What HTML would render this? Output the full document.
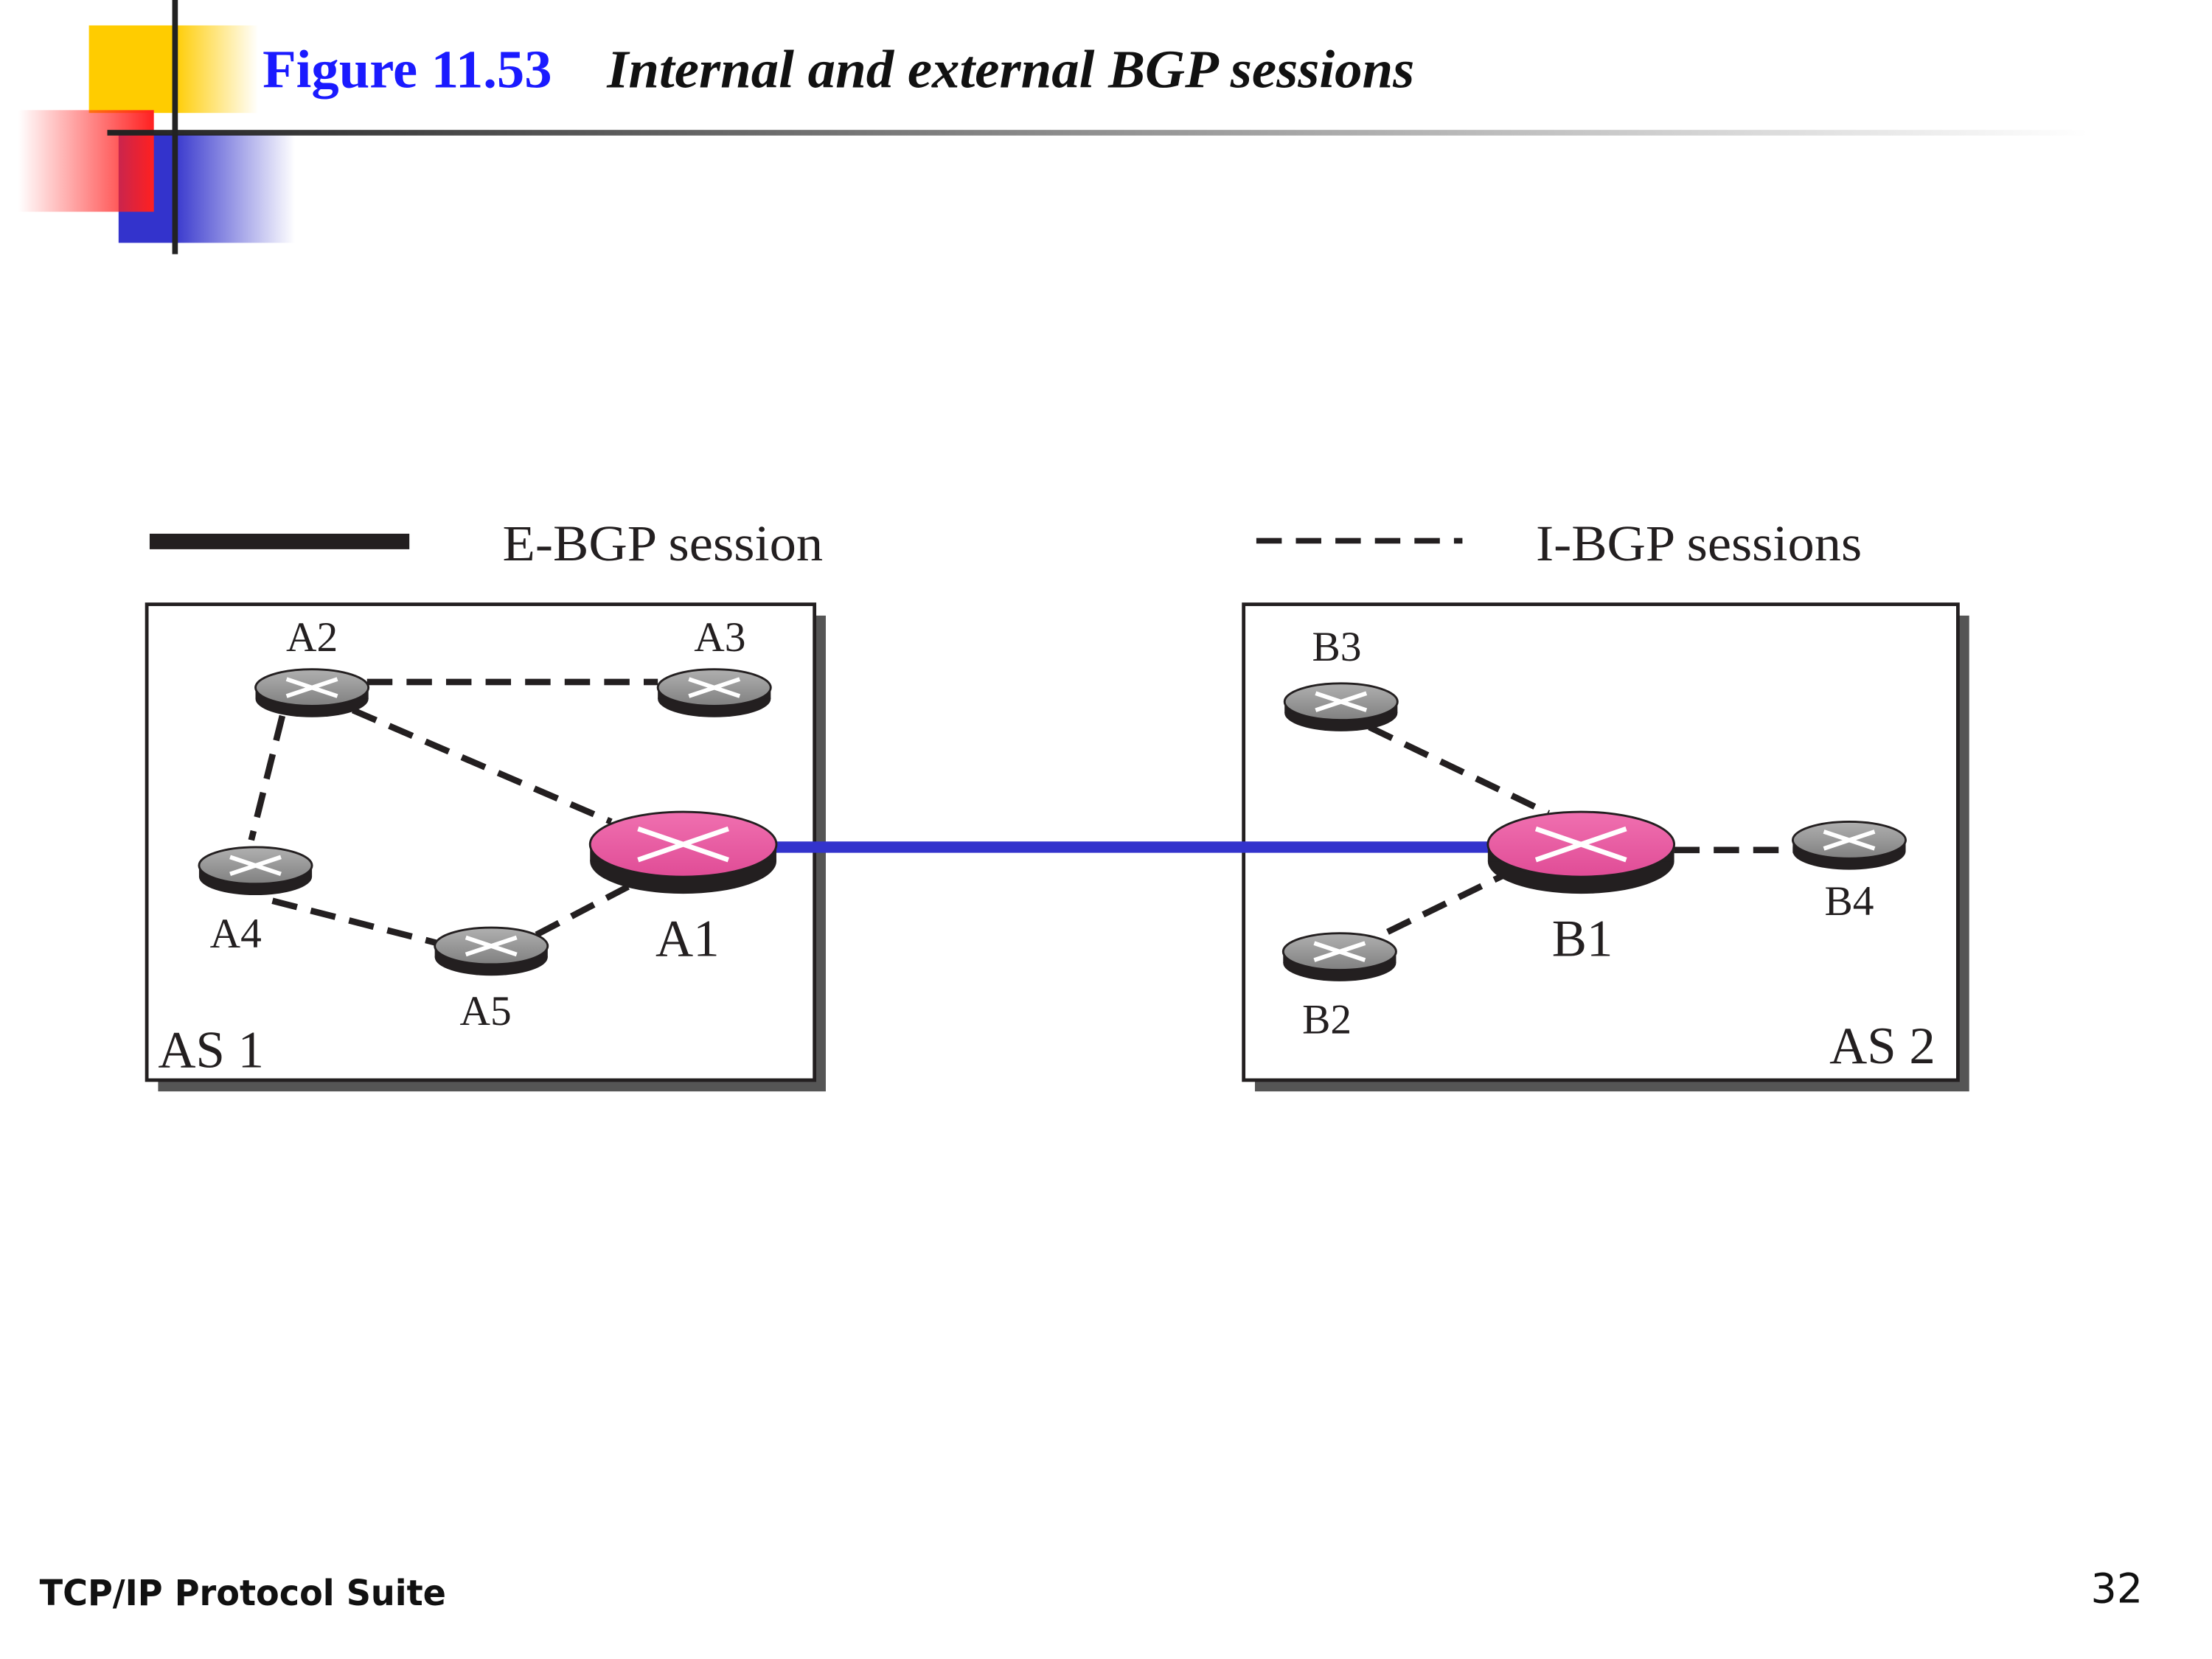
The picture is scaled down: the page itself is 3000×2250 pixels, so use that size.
<!DOCTYPE html>
<html><head><meta charset="utf-8"><style>
html,body{margin:0;padding:0;background:#fff;}
svg{display:block;}
</style></head><body>
<svg width="3000" height="2250" viewBox="0 0 1567 1175" preserveAspectRatio="none" xmlns="http://www.w3.org/2000/svg">
<defs>
<linearGradient id="gy" x1="0" x2="1" y1="0" y2="0"><stop offset="0.5" stop-color="#ffcc00"/><stop offset="1" stop-color="#ffcc00" stop-opacity="0"/></linearGradient>
<linearGradient id="gr" x1="1" x2="0" y1="0" y2="0"><stop offset="0" stop-color="#ff2020"/><stop offset="1" stop-color="#ff2020" stop-opacity="0"/></linearGradient>
<linearGradient id="gb" x1="0" x2="1" y1="0" y2="0"><stop offset="0.3" stop-color="#3333cc"/><stop offset="1" stop-color="#3333cc" stop-opacity="0"/></linearGradient>
<linearGradient id="gl" x1="0" x2="1" y1="0" y2="0"><stop offset="0" stop-color="#222"/><stop offset="1" stop-color="#222" stop-opacity="0"/></linearGradient>
<linearGradient id="gray" x1="0" x2="0" y1="0" y2="1"><stop offset="0" stop-color="#b0b0b0"/><stop offset="1" stop-color="#808080"/></linearGradient>
<linearGradient id="pink" x1="0" x2="0" y1="0" y2="1"><stop offset="0" stop-color="#f070b0"/><stop offset="1" stop-color="#e04c96"/></linearGradient>
</defs>
<rect x="63" y="18" width="120" height="62" fill="url(#gy)"/>
<rect x="84" y="95" width="125" height="77" fill="url(#gb)"/>
<rect x="13" y="78" width="96" height="72" fill="url(#gr)"/>
<rect x="76" y="92" width="1404" height="4" fill="url(#gl)"/>
<rect x="122" y="0" width="4" height="180" fill="#222"/>
<text x="186" y="62" font-family="Liberation Serif, serif" font-weight="bold" font-size="38" fill="#1a1aff" textLength="205" lengthAdjust="spacingAndGlyphs">Figure 11.53</text>
<text x="430" y="62" font-family="Liberation Serif, serif" font-weight="bold" font-style="italic" font-size="38" fill="#111" textLength="572" lengthAdjust="spacingAndGlyphs">Internal and external BGP sessions</text>

<rect x="106" y="378" width="184" height="11" fill="#231f20"/>
<text x="356" y="397" font-family="Liberation Serif, serif" font-size="36" fill="#231f20" textLength="227" lengthAdjust="spacingAndGlyphs">E-BGP session</text>
<line x1="890" y1="383" x2="1036" y2="383" stroke="#231f20" stroke-width="4" stroke-dasharray="18 10"/>
<text x="1088" y="397" font-family="Liberation Serif, serif" font-size="36" fill="#231f20" textLength="231" lengthAdjust="spacingAndGlyphs">I-BGP sessions</text>

<rect x="112" y="436" width="473" height="337" fill="#555"/>
<rect x="104" y="428" width="473" height="337" fill="#fff" stroke="#231f20" stroke-width="2.5"/>
<rect x="889" y="436" width="506" height="337" fill="#555"/>
<rect x="881" y="428" width="506" height="337" fill="#fff" stroke="#231f20" stroke-width="2.5"/>

<g stroke="#231f20" stroke-width="4.5" stroke-dasharray="18 10" fill="none">
<line x1="260" y1="483" x2="466" y2="483"/>
<line x1="200" y1="507" x2="178" y2="595"/>
<line x1="250" y1="503" x2="433" y2="582"/>
<line x1="193" y1="638" x2="310" y2="668"/>
<line x1="380" y1="662" x2="445" y2="628"/>
<line x1="970" y1="515" x2="1097" y2="576"/>
<line x1="983" y1="660" x2="1065" y2="620"/>
<line x1="1186" y1="602" x2="1272" y2="602"/>
</g>
<line x1="548" y1="600" x2="1058" y2="600" stroke="#3333cc" stroke-width="8"/>

<g id="routers">
<g transform="translate(221,487)"><ellipse cx="0" cy="8" rx="40" ry="13" fill="#231f20"/><rect x="-40" y="0" width="80" height="8" fill="#231f20"/><ellipse cx="0" cy="0" rx="40" ry="13" fill="url(#gray)" stroke="#231f20" stroke-width="1.5"/><path d="M-18,-6 L18,6 M-18,6 L18,-6" stroke="#fff" stroke-width="3"/></g>
<g transform="translate(506,487)"><ellipse cx="0" cy="8" rx="40" ry="13" fill="#231f20"/><rect x="-40" y="0" width="80" height="8" fill="#231f20"/><ellipse cx="0" cy="0" rx="40" ry="13" fill="url(#gray)" stroke="#231f20" stroke-width="1.5"/><path d="M-18,-6 L18,6 M-18,6 L18,-6" stroke="#fff" stroke-width="3"/></g>
<g transform="translate(181,613)"><ellipse cx="0" cy="8" rx="40" ry="13" fill="#231f20"/><rect x="-40" y="0" width="80" height="8" fill="#231f20"/><ellipse cx="0" cy="0" rx="40" ry="13" fill="url(#gray)" stroke="#231f20" stroke-width="1.5"/><path d="M-18,-6 L18,6 M-18,6 L18,-6" stroke="#fff" stroke-width="3"/></g>
<g transform="translate(348,670)"><ellipse cx="0" cy="8" rx="40" ry="13" fill="#231f20"/><rect x="-40" y="0" width="80" height="8" fill="#231f20"/><ellipse cx="0" cy="0" rx="40" ry="13" fill="url(#gray)" stroke="#231f20" stroke-width="1.5"/><path d="M-18,-6 L18,6 M-18,6 L18,-6" stroke="#fff" stroke-width="3"/></g>
<g transform="translate(950,497)"><ellipse cx="0" cy="8" rx="40" ry="13" fill="#231f20"/><rect x="-40" y="0" width="80" height="8" fill="#231f20"/><ellipse cx="0" cy="0" rx="40" ry="13" fill="url(#gray)" stroke="#231f20" stroke-width="1.5"/><path d="M-18,-6 L18,6 M-18,6 L18,-6" stroke="#fff" stroke-width="3"/></g>
<g transform="translate(1310,595)"><ellipse cx="0" cy="8" rx="40" ry="13" fill="#231f20"/><rect x="-40" y="0" width="80" height="8" fill="#231f20"/><ellipse cx="0" cy="0" rx="40" ry="13" fill="url(#gray)" stroke="#231f20" stroke-width="1.5"/><path d="M-18,-6 L18,6 M-18,6 L18,-6" stroke="#fff" stroke-width="3"/></g>
<g transform="translate(949,674)"><ellipse cx="0" cy="8" rx="40" ry="13" fill="#231f20"/><rect x="-40" y="0" width="80" height="8" fill="#231f20"/><ellipse cx="0" cy="0" rx="40" ry="13" fill="url(#gray)" stroke="#231f20" stroke-width="1.5"/><path d="M-18,-6 L18,6 M-18,6 L18,-6" stroke="#fff" stroke-width="3"/></g>
<g transform="translate(484,598)"><ellipse cx="0" cy="12" rx="66" ry="23" fill="#231f20"/><rect x="-66" y="0" width="132" height="12" fill="#231f20"/><ellipse cx="0" cy="0" rx="66" ry="23" fill="url(#pink)" stroke="#231f20" stroke-width="1.5"/><path d="M-32,-11 L32,11 M-32,11 L32,-11" stroke="#fff" stroke-width="3.5"/></g>
<g transform="translate(1120,598)"><ellipse cx="0" cy="12" rx="66" ry="23" fill="#231f20"/><rect x="-66" y="0" width="132" height="12" fill="#231f20"/><ellipse cx="0" cy="0" rx="66" ry="23" fill="url(#pink)" stroke="#231f20" stroke-width="1.5"/><path d="M-32,-11 L32,11 M-32,11 L32,-11" stroke="#fff" stroke-width="3.5"/></g>
</g>

<g font-family="Liberation Serif, serif" fill="#231f20" text-anchor="middle">
<text x="221" y="461" font-size="30">A2</text>
<text x="510" y="461" font-size="30">A3</text>
<text x="167" y="671" font-size="30">A4</text>
<text x="344" y="726" font-size="30">A5</text>
<text x="487" y="677" font-size="37">A1</text>
<text x="947" y="468" font-size="30">B3</text>
<text x="1310" y="648" font-size="30">B4</text>
<text x="1121" y="677" font-size="37">B1</text>
<text x="940" y="732" font-size="30">B2</text>
<text x="112" y="756" font-size="37" text-anchor="start">AS 1</text>
<text x="1371" y="753" font-size="37" text-anchor="end">AS 2</text>
</g>

<text x="28" y="1137" font-family="DejaVu Sans, sans-serif" font-weight="bold" font-size="25" fill="#111" textLength="288" lengthAdjust="spacingAndGlyphs">TCP/IP Protocol Suite</text>
<text x="1518" y="1135" font-family="DejaVu Sans, sans-serif" font-size="29" fill="#111" text-anchor="end">32</text>
</svg>
</body></html>
